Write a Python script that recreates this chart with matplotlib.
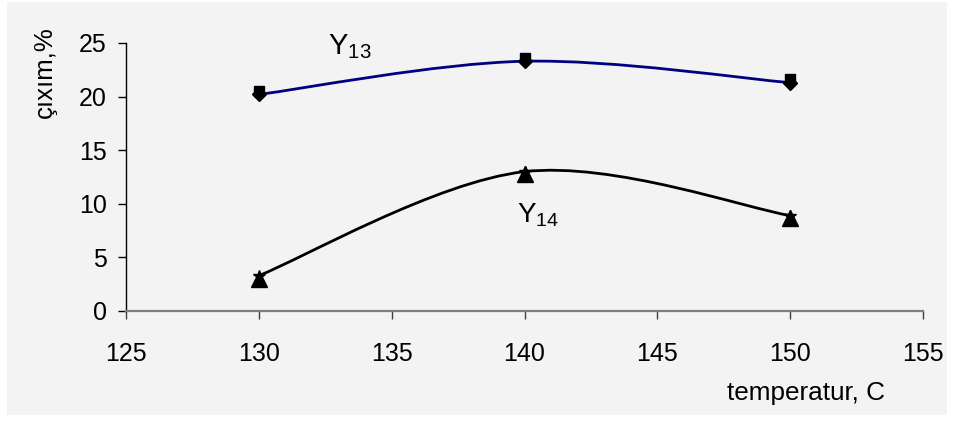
import matplotlib
matplotlib.use("Agg")
import matplotlib.pyplot as plt
from matplotlib.path import Path
from matplotlib.patches import PathPatch, Rectangle

plt.rcParams['font.family'] = ['Liberation Sans', 'DejaVu Sans']
plt.rcParams['mathtext.fontset'] = 'custom'
plt.rcParams['mathtext.rm'] = 'Liberation Sans'

temp = [130, 140, 150]
y13_calc = [20.2, 23.3, 21.3]
y13_exp = [20.5, 23.6, 21.6]
y14_calc = [3.3, 13.0, 8.9]
y14_exp = [3.0, 12.8, 8.7]

x_ticks = [125, 130, 135, 140, 145, 150, 155]
y_ticks = [0, 5, 10, 15, 20, 25]


def smooth_path(xs, ys):
    # cubic bezier through the points, tangents from neighbours (spreadsheet style)
    pts = list(zip(xs, ys))
    verts = [pts[0]]
    codes = [Path.MOVETO]
    n = len(pts)
    for i in range(n - 1):
        p0 = pts[max(i - 1, 0)]
        p1 = pts[i]
        p2 = pts[i + 1]
        p3 = pts[min(i + 2, n - 1)]
        c1 = (p1[0] + (p2[0] - p0[0]) / 6, p1[1] + (p2[1] - p0[1]) / 6)
        c2 = (p2[0] - (p3[0] - p1[0]) / 6, p2[1] - (p3[1] - p1[1]) / 6)
        verts += [c1, c2, p2]
        codes += [Path.CURVE4] * 3
    return Path(verts, codes)


fig = plt.figure(figsize=(9.58, 4.23), dpi=100)
fig.patch.set_facecolor('white')
fig.patches.append(Rectangle((7 / 958, 1 - 415 / 423), 940 / 958, 413 / 423,
                             transform=fig.transFigure, facecolor='#f3f3f3',
                             edgecolor='none', zorder=0))

ax = fig.add_axes([126 / 958, 1 - 311 / 423, 797 / 958, 268 / 423])
ax.set_facecolor('none')
ax.set_zorder(2)

ax.add_patch(PathPatch(smooth_path(temp, y13_calc), fill=False,
                       edgecolor='#000080', lw=2, zorder=2))
ax.add_patch(PathPatch(smooth_path(temp, y14_calc), fill=False,
                       edgecolor='black', lw=2, zorder=2))

ax.plot(temp, y13_calc, linestyle='none', marker='D', ms=7, color='black', zorder=3)
ax.plot(temp, y13_exp, linestyle='none', marker='s', ms=7, color='black', zorder=4)
ax.plot(temp, y14_exp, linestyle='none', marker='^', ms=11, color='black', zorder=3)
ax.plot(temp, y14_calc, linestyle='none', marker='*', ms=9, color='black', zorder=4)

ax.text(132.6, 24.0, r'$\mathrm{Y}_{13}$', fontsize=21, ha='left', va='baseline')
ax.text(139.7, 8.3, r'$\mathrm{Y}_{14}$', fontsize=20, ha='left', va='baseline')

ax.set_xlim(125, 155)
ax.set_ylim(0, 25)
ax.set_xticks(x_ticks)
ax.set_yticks(y_ticks)

ax.spines['top'].set_visible(False)
ax.spines['right'].set_visible(False)
ax.spines['left'].set_color('black')
ax.spines['left'].set_linewidth(1)
ax.spines['bottom'].set_color('#808080')
ax.spines['bottom'].set_linewidth(1.6)

ax.tick_params(axis='y', direction='out', length=6, width=1, color='black',
               pad=8, labelsize=18)
ax.tick_params(axis='x', direction='out', length=5.5, width=1, color='#404040',
               pad=17, labelsize=18)

fig.text(45 / 958, 1 - 72 / 423, 'çıxım,%', rotation=90, fontsize=18.5,
         ha='center', va='center')
fig.text(806 / 958, 1 - 393 / 423, 'temperatur, C', fontsize=18.8,
         ha='center', va='center')

fig.savefig('out.png', dpi=100)
